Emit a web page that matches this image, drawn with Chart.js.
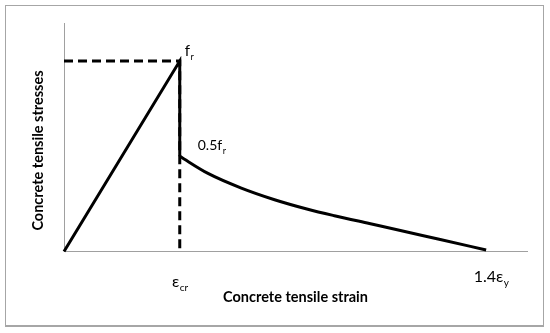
<!DOCTYPE html>
<html>
<head>
<meta charset="utf-8">
<script src="https://cdn.jsdelivr.net/npm/chart.js@4"></script>
<style>
  html, body { margin: 0; padding: 0; background: #fff; }
  #wrap { position: relative; width: 550px; height: 333px; }
  #frame {
    position: absolute; left: 5px; top: 5px; width: 537px; height: 319px;
    border: 1px solid #a6a6a6; border-bottom-width: 2px; pointer-events: none;
  }
</style>
</head>
<body>
<div id="wrap">
  <canvas id="chart" width="550" height="333"></canvas>
  <div id="frame"></div>
</div>
<script>
// --- Data (strain in units of eps_cr, stress in units of f_r) ---
const risingStrain = [0, 1, 1];
const risingStress = [0, 1, 0.5];

const softeningStrain = [1, 1.244, 1.532, 1.819, 2.106, 2.336, 2.638, 2.897, 3.241, 3.647];
const softeningStress = [0.5, 0.41, 0.333, 0.272, 0.222, 0.188, 0.147, 0.112, 0.064, 0.008];

const guideStrain = [0, 1, 1];
const guideStress = [1, 1, 0];

const xTickValues = [1, 3.647];
const xTickLabels = [["ε", "cr"], ["1.4ε", "y"]];

const xTitle = "Concrete tensile strain";
const yTitle = "Concrete tensile stresses";

const peakLabel = ["f", "r"];
const residualLabel = ["0.5f", "r"];

const toPoints = (xs, ys) => xs.map((x, i) => ({ x: x, y: ys[i] }));

const FONT = "Lato, 'Open Sans', sans-serif";

// draw "main" + smaller subscript, centered or left aligned
function drawSub(ctx, parts, x, y, size, align) {
  const [main, sub] = parts;
  ctx.font = `${size}px ${FONT}`;
  const w1 = ctx.measureText(main).width;
  ctx.font = `${Math.round(size * 0.62)}px ${FONT}`;
  const w2 = ctx.measureText(sub).width;
  let left = align === "center" ? x - (w1 + w2) / 2 : x;
  ctx.textAlign = "left";
  ctx.textBaseline = "middle";
  ctx.font = `${size}px ${FONT}`;
  ctx.fillText(main, left, y);
  ctx.font = `${Math.round(size * 0.62)}px ${FONT}`;
  ctx.fillText(sub, left + w1 + 0.5, y + size * 0.38);
}

const labelPlugin = {
  id: "labels",
  afterDraw(chart) {
    const { ctx, chartArea, scales } = chart;
    const xs = scales.x, ys = scales.y;
    ctx.save();
    ctx.fillStyle = "#000";

    // tick labels under x axis
    xTickValues.forEach((v, i) => {
      const px = xs.getPixelForValue(v);
      const dy = i === 0 ? 30 : 25;
      const dx = i === 0 ? 0 : 5;
      drawSub(ctx, xTickLabels[i], px + dx, ys.getPixelForValue(0) + dy, 16, "center");
    });

    // point annotations
    drawSub(ctx, peakLabel, xs.getPixelForValue(1) + 5, ys.getPixelForValue(1) - 10, 15, "left");
    drawSub(ctx, residualLabel, xs.getPixelForValue(1) + 18, ys.getPixelForValue(0.5) - 11, 14, "left");

    // axis titles
    ctx.font = `bold 14.5px ${FONT}`;
    ctx.textAlign = "center";
    ctx.textBaseline = "middle";
    ctx.fillText(xTitle, (chartArea.left + chartArea.right) / 2, chartArea.bottom + 46);

    ctx.translate(chartArea.left - 26, chartArea.bottom - 101);
    ctx.rotate(-Math.PI / 2);
    ctx.fillText(yTitle, 0, 0);
    ctx.restore();
  }
};

new Chart(document.getElementById("chart"), {
  type: "scatter",
  data: {
    datasets: [
      {
        data: toPoints(guideStrain, guideStress),
        showLine: true,
        borderColor: "#000",
        borderWidth: 3,
        borderDash: [9, 5],
        pointRadius: 0,
        clip: false
      },
      {
        data: toPoints(risingStrain, risingStress),
        showLine: true,
        borderColor: "#000",
        borderWidth: 3,
        pointRadius: 0,
        clip: false
      },
      {
        data: toPoints(softeningStrain, softeningStress),
        showLine: true,
        borderColor: "#000",
        borderWidth: 3,
        pointRadius: 0,
        cubicInterpolationMode: "monotone",
        clip: false
      }
    ]
  },
  options: {
    responsive: false,
    animation: false,
    layout: { padding: { left: 64, right: 23, top: 23, bottom: 81.5 } },
    plugins: { legend: { display: false }, tooltip: { enabled: false } },
    scales: {
      x: {
        type: "linear", min: 0, max: 4,
        grid: { display: false, drawTicks: false },
        ticks: { display: false },
        border: { color: "#a0a0a0", width: 1 }
      },
      y: {
        type: "linear", min: 0, max: 1.2,
        grid: { display: false, drawTicks: false },
        ticks: { display: false },
        border: { color: "#a0a0a0", width: 1 }
      }
    }
  },
  plugins: [labelPlugin]
});
</script>
</body>
</html>
